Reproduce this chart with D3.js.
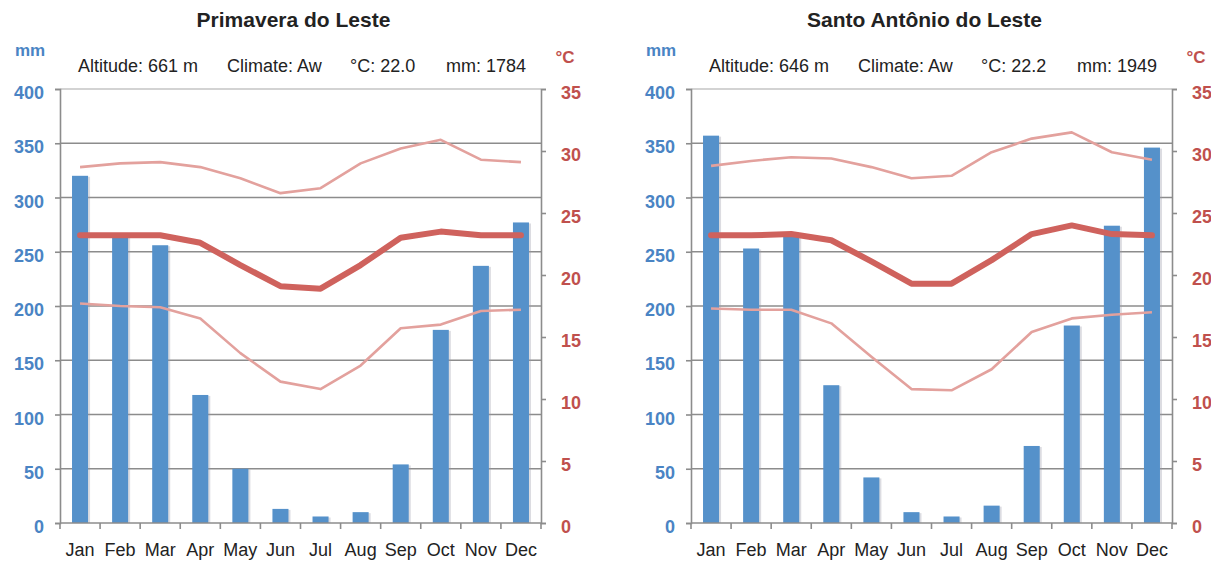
<!DOCTYPE html>
<html>
<head>
<meta charset="utf-8">
<script src="https://cdn.jsdelivr.net/npm/d3@7"></script>
<style>
  html, body { margin: 0; padding: 0; background: #fff; }
  svg { display: block; font-family: "Liberation Sans", Arial, sans-serif; }
</style>
</head>
<body>
<svg id="chart" width="1211" height="561"></svg>
<script>
// ---------- data ----------
const months = ["Jan","Feb","Mar","Apr","May","Jun","Jul","Aug","Sep","Oct","Nov","Dec"];
const mmTicks = [0,50,100,150,200,250,300,350,400];
const cTicks = [0,5,10,15,20,25,30,35];

const titlePL = "Primavera do Leste";
const infoPL = ["Altitude: 661 m","Climate: Aw","°C: 22.0","mm: 1784"];
const precipPL = [320,265,256,118,50,13,6,10,54,178,237,277];
const tMaxPL  = [28.7,29.0,29.1,28.7,27.8,26.6,27.0,29.0,30.2,30.9,29.3,29.1];
const tMeanPL = [23.2,23.2,23.2,22.6,20.8,19.1,18.9,20.8,23.0,23.5,23.2,23.2];
const tMinPL  = [17.7,17.5,17.4,16.5,13.7,11.4,10.8,12.7,15.7,16.0,17.1,17.2];

const titleSA = "Santo Antônio do Leste";
const infoSA = ["Altitude: 646 m","Climate: Aw","°C: 22.2","mm: 1949"];
const precipSA = [357,253,264,127,42,10,6,16,71,182,274,346];
const tMaxSA  = [28.8,29.2,29.5,29.4,28.7,27.8,28.0,29.9,31.0,31.5,29.9,29.3];
const tMeanSA = [23.2,23.2,23.3,22.8,21.1,19.3,19.3,21.2,23.3,24.0,23.3,23.2];
const tMinSA  = [17.3,17.2,17.2,16.1,13.4,10.8,10.7,12.4,15.4,16.5,16.8,17.0];

// ---------- style ----------
const BLUE_TXT = "#4a84c4";
const RED_TXT = "#c0504d";
const BAR = "#5591ca";
const MEAN = "#cf625d";
const THIN = "#e3a19d";
const GRID = "#8c8c8c";

const svg = d3.select("#chart");

function drawChart(x0, title, info, precip, tMax, tMean, tMin) {
  const W = 481, top = 89, bottom = 523;
  const g = svg.append("g").attr("transform", `translate(${x0},0)`);

  const x = d3.scaleBand().domain(months).range([0, W]).paddingInner(0).paddingOuter(0);
  const yP = d3.scaleLinear().domain([0, 400]).range([bottom, top]);
  const yT = d3.scaleLinear().domain([0, 35]).range([bottom, top]);
  const cx = m => x(m) + x.bandwidth() / 2;

  // title
  g.append("text").attr("x", W / 2 - 7).attr("y", 27)
    .attr("text-anchor", "middle").attr("font-size", 21).attr("font-weight", "bold")
    .attr("fill", "#222").text(title);

  // unit labels
  g.append("text").attr("x", -30).attr("y", 56).attr("text-anchor", "middle")
    .attr("font-size", 17).attr("font-weight", "bold").attr("fill", BLUE_TXT).text("mm");
  g.append("text").attr("x", W + 24).attr("y", 63).attr("text-anchor", "middle")
    .attr("font-size", 17).attr("font-weight", "bold").attr("fill", RED_TXT).text("°C");

  // info line
  const infoX = [18, 167, 290, 386];
  g.selectAll("text.info").data(info).join("text").attr("class", "info")
    .attr("x", (d, i) => infoX[i]).attr("y", 72)
    .attr("font-size", 18).attr("fill", "#222").text(d => d);

  // gridlines
  g.append("g").selectAll("line").data(mmTicks.filter(t => t > 0)).join("line")
    .attr("x1", 0).attr("x2", W).attr("y1", d => yP(d)).attr("y2", d => yP(d))
    .attr("stroke", d => d === 400 ? "#a8a8a8" : GRID)
    .attr("stroke-width", d => d === 400 ? 1.2 : 1.6);

  // bars (with soft shadow)
  const bw = x.bandwidth() * 0.4;
  g.append("g").selectAll("rect").data(months).join("rect")
    .attr("x", m => cx(m) - bw / 2 + 2).attr("width", bw)
    .attr("y", (m, i) => yP(precip[i]) + 1).attr("height", (m, i) => bottom - yP(precip[i]) - 1)
    .attr("fill", "#9a9aa8").attr("opacity", 0.35);
  g.append("g").selectAll("rect").data(months).join("rect")
    .attr("x", m => cx(m) - bw / 2).attr("width", bw)
    .attr("y", (m, i) => yP(precip[i])).attr("height", (m, i) => bottom - yP(precip[i]))
    .attr("fill", BAR);

  // axes
  const leftAxis = d3.axisLeft(yP).tickValues(mmTicks).tickSize(5).tickPadding(11);
  const la = g.append("g").call(leftAxis);
  la.select(".domain").attr("stroke", GRID).attr("stroke-width", 1.6);
  la.selectAll(".tick line").attr("stroke", GRID).attr("stroke-width", 1.6);
  la.selectAll(".tick text").attr("fill", BLUE_TXT).attr("font-size", 18)
    .attr("font-weight", "bold").attr("font-family", "Liberation Sans, Arial, sans-serif")
    .attr("dy", "0.65em").attr("y", -2);

  const rightAxis = d3.axisRight(yT).tickValues(cTicks).tickSize(5).tickPadding(15);
  const ra = g.append("g").attr("transform", `translate(${W},0)`).call(rightAxis);
  ra.select(".domain").attr("stroke", GRID).attr("stroke-width", 1.6);
  ra.selectAll(".tick line").attr("stroke", GRID).attr("stroke-width", 1.6);
  ra.selectAll(".tick text").attr("fill", RED_TXT).attr("font-size", 18)
    .attr("font-weight", "bold").attr("font-family", "Liberation Sans, Arial, sans-serif")
    .attr("dy", "0.65em").attr("y", -2);

  // bottom axis line + ticks at band boundaries
  g.append("line").attr("x1", 0).attr("x2", W).attr("y1", bottom).attr("y2", bottom)
    .attr("stroke", GRID).attr("stroke-width", 1.6);
  const bounds = months.map(m => x(m)).concat([W]);
  g.append("g").selectAll("line").data(bounds).join("line")
    .attr("x1", d => d).attr("x2", d => d).attr("y1", bottom).attr("y2", bottom + 6)
    .attr("stroke", GRID).attr("stroke-width", 1.6);
  g.append("g").selectAll("text").data(months).join("text")
    .attr("x", m => cx(m)).attr("y", 556).attr("text-anchor", "middle")
    .attr("font-size", 18).attr("fill", "#222").text(m => m);

  // temperature lines
  const line = vals => d3.line().x((d, i) => cx(months[i])).y(d => yT(d))(vals);
  g.append("path").attr("d", line(tMax)).attr("fill", "none").attr("stroke", THIN)
    .attr("stroke-width", 2.6).attr("stroke-linejoin", "round");
  g.append("path").attr("d", line(tMin)).attr("fill", "none").attr("stroke", THIN)
    .attr("stroke-width", 2.6).attr("stroke-linejoin", "round");
  g.append("path").attr("d", line(tMean)).attr("fill", "none").attr("stroke", MEAN)
    .attr("stroke-width", 6).attr("stroke-linejoin", "round").attr("stroke-linecap", "round");
}

drawChart(60, titlePL, infoPL, precipPL, tMaxPL, tMeanPL, tMinPL);
drawChart(691, titleSA, infoSA, precipSA, tMaxSA, tMeanSA, tMinSA);
</script>
</body>
</html>
